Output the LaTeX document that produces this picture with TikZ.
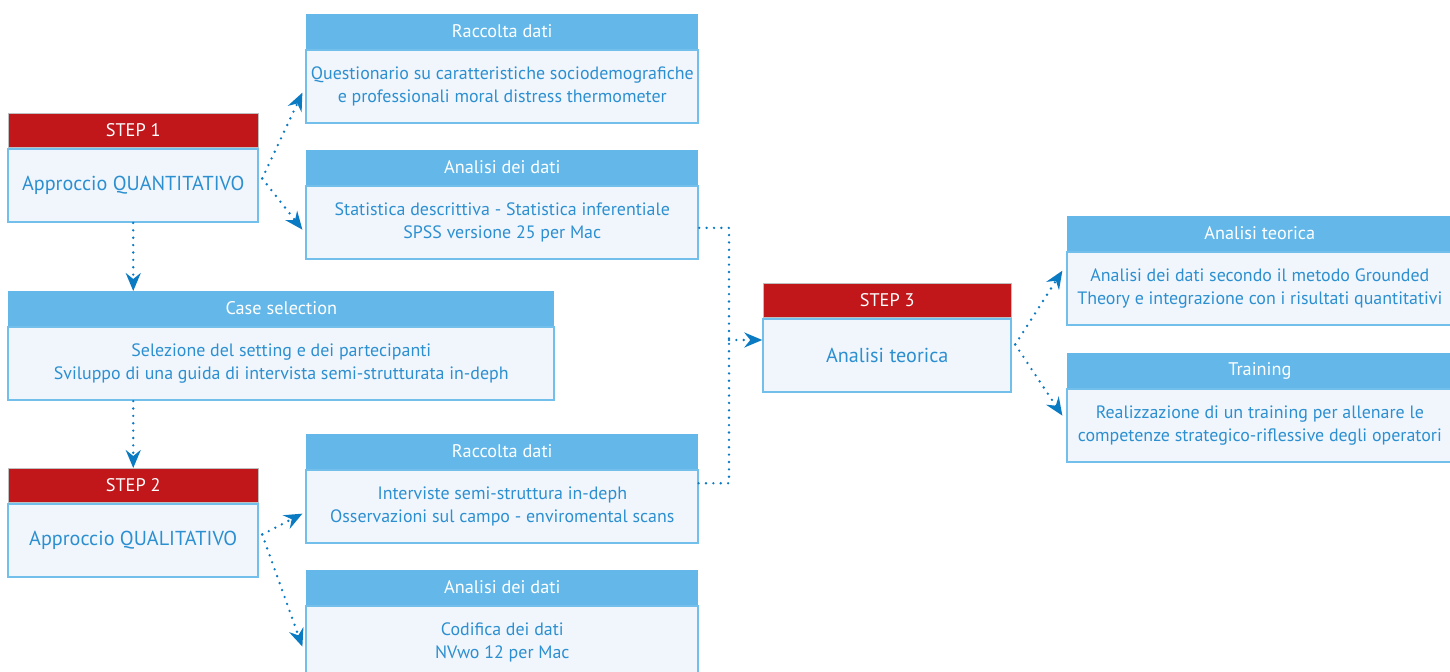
\documentclass[tikz,border=0pt]{standalone}
\usepackage{fontspec}
\setmainfont{PT Sans}
\usepackage{tikz}
\usetikzlibrary{positioning, arrows.meta, calc}

\definecolor{hdred}{HTML}{C1171B}
\definecolor{hdblue}{HTML}{63B8E9}
\definecolor{bodyfill}{HTML}{F1F6FD}
\definecolor{txtblue}{HTML}{2C8FD0}
\definecolor{arrblue}{HTML}{0A7BC2}

\begin{document}
\begin{tikzpicture}[
    x=0.02cm, y=-0.02cm,
    head/.style={rectangle, fill=hdblue, text=white, minimum width=#1, minimum height=0.69cm, inner sep=0pt, anchor=north west, font=\fontsize{10.4}{12}\selectfont},
    stephead/.style={head=#1, fill=hdred, draw=black!25, line width=0.3pt},
    body/.style={rectangle, draw=hdblue!90, line width=1.1pt, fill=bodyfill, text=txtblue, minimum width=#1, minimum height=1.46cm, inner sep=0pt, align=center, font=\fontsize{10.2}{13}\selectfont},
    stepbody/.style={body=#1, font=\fontsize{11.5}{13}\selectfont},
    arrow/.style={-{Stealth[length=3.6mm, width=3mm, inset=1.2mm]}, arrblue, line width=1.5pt, line cap=round, dash pattern=on 0pt off 4.2pt},
    link/.style={arrblue, line width=1.5pt, line cap=round, dash pattern=on 0pt off 4.2pt}
]
\useasboundingbox (0,0) rectangle (1450,672);

% step 1
\node[stephead=5cm] (s1h) at (8,113) {STEP 1};
\node[stepbody=5cm, below=0pt of s1h] (s1b) {Approccio QUANTITATIVO};

\node[head=7.84cm] (rd1h) at (306,14) {Raccolta dati};
\node[body=7.84cm, below=0pt of rd1h] (rd1b) {Questionario su caratteristiche sociodemografiche\\e professionali moral distress thermometer};

\node[head=7.84cm] (ad1h) at (306,150) {Analisi dei dati};
\node[body=7.84cm, below=0pt of ad1h] (ad1b) {Statistica descrittiva - Statistica inferentiale\\SPSS versione 25 per Mac};

% case selection
\node[head=10.92cm] (csh) at (8,291) {Case selection};
\node[body=10.92cm, below=0pt of csh] (csb) {Selezione del setting e dei partecipanti\\Sviluppo di una guida di intervista semi-strutturata in-deph};

% step 2
\node[stephead=5cm] (s2h) at (8,468) {STEP 2};
\node[stepbody=5cm, below=0pt of s2h] (s2b) {Approccio QUALITATIVO};

\node[head=7.84cm] (rd2h) at (306,434) {Raccolta dati};
\node[body=7.84cm, below=0pt of rd2h] (rd2b) {Interviste semi-struttura in-deph\\Osservazioni sul campo - enviromental scans};

\node[head=7.84cm] (ad2h) at (306,570) {Analisi dei dati};
\node[body=7.84cm, below=0pt of ad2h] (ad2b) {Codifica dei dati\\NVwo 12 per Mac};

% step 3
\node[stephead=4.96cm] (s3h) at (763,283) {STEP 3};
\node[stepbody=4.96cm, below=0pt of s3h] (s3b) {Analisi teorica};

\node[head=7.7cm] (ath) at (1067,216) {Analisi teorica};
\node[body=7.7cm, below=0pt of ath] (atb) {Analisi dei dati secondo il metodo Grounded\\Theory e integrazione con i risultati quantitativi};

\node[head=7.7cm] (trh) at (1067,353) {Training};
\node[body=7.7cm, below=0pt of trh] (trb) {Realizzazione di un training per allenare le\\competenze strategico-riflessive degli operatori};

% connectors
\draw[arrow] ([shift={(3,-7)}]s1b.east) -- ([shift={(-3,6)}]rd1b.west);
\draw[arrow] ([shift={(3,-7)}]s1b.east) -- ([shift={(-3,7)}]ad1b.west);
\draw[arrow] (s1b.south) -- (csh.north -| s1b.south);
\draw[arrow] (csb.south -| s2h.north) -- (s2h.north);
\draw[arrow] ([shift={(3,-6)}]s2b.east) -- ([shift={(-3,7)}]rd2b.west);
\draw[arrow] ([shift={(3,-6)}]s2b.east) -- ([shift={(-3,4)}]ad2b.west);

\coordinate (jn) at (729,340);
\draw[link] ([yshift=-3]ad1b.east) -| (jn);
\draw[link] ([yshift=-8]rd2h.south east) -| (jn);
\draw[arrow] (jn) -- (jn -| s3b.west);

\draw[arrow] ([shift={(3,-11)}]s3b.east) -- ([shift={(-4,-18)}]atb.west);
\draw[arrow] ([shift={(3,-11)}]s3b.east) -- ([shift={(-4,-10)}]trb.west);

\end{tikzpicture}
\end{document}
